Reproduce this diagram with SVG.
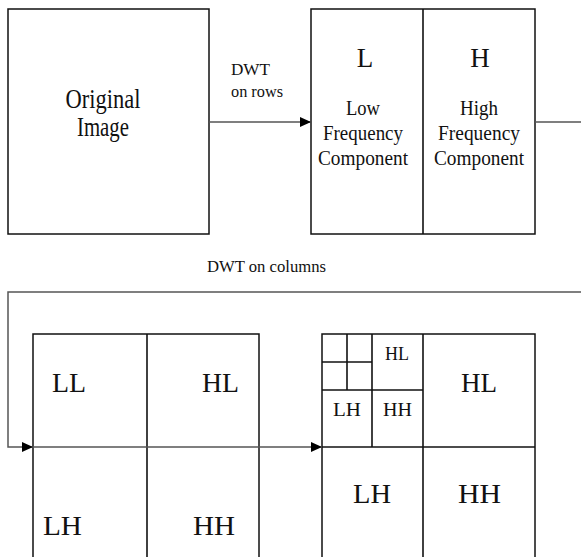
<svg xmlns="http://www.w3.org/2000/svg" width="581" height="557" viewBox="0 0 581 557">
<style>
.box{fill:#fff;stroke:#111;stroke-width:1.5}
.div{fill:none;stroke:#111;stroke-width:1.6}
.con{fill:none;stroke:#555;stroke-width:1.5}
text{font-family:"Liberation Serif","Times New Roman",serif;fill:#111}
.big{font-size:27px}
.mid{font-size:20px;text-anchor:middle}
.sm{font-size:18px}
.lbl{font-size:16px}
</style>
<defs>
<marker id="ah" markerUnits="userSpaceOnUse" markerWidth="12" markerHeight="10" refX="11" refY="5" orient="auto">
<path d="M0,0 L11,5 L0,10 z" fill="#000"/>
</marker>
</defs>
<rect width="581" height="557" fill="#fff"/>
<g id="original">
<rect class="box" x="8" y="9" width="201" height="225"/>
<text x="103" y="108" text-anchor="middle" font-size="27" textLength="75" lengthAdjust="spacingAndGlyphs">Original</text>
<text x="103" y="136" text-anchor="middle" font-size="27" textLength="52" lengthAdjust="spacingAndGlyphs">Image</text>
</g>
<g id="rows-result">
<rect class="box" x="311" y="9" width="224" height="225"/>
<line class="div" x1="423" y1="9" x2="423" y2="234"/>
<text class="big" x="365" y="67" text-anchor="middle">L</text>
<text class="big" x="480" y="67" text-anchor="middle">H</text>
<text class="mid" x="363" y="115" textLength="34" lengthAdjust="spacingAndGlyphs">Low</text>
<text class="mid" x="363" y="140" textLength="80" lengthAdjust="spacingAndGlyphs">Frequency</text>
<text class="mid" x="363" y="165" textLength="90" lengthAdjust="spacingAndGlyphs">Component</text>
<text class="mid" x="479" y="115" textLength="38" lengthAdjust="spacingAndGlyphs">High</text>
<text class="mid" x="479" y="140" textLength="82" lengthAdjust="spacingAndGlyphs">Frequency</text>
<text class="mid" x="479" y="165" textLength="90" lengthAdjust="spacingAndGlyphs">Component</text>
</g>
<g id="level1">
<rect class="box" x="33" y="334" width="226" height="240"/>
<line class="div" x1="147" y1="334" x2="147" y2="560"/>
<text class="big" x="52" y="392" textLength="34" lengthAdjust="spacingAndGlyphs">LL</text>
<text class="big" x="202" y="392" textLength="37" lengthAdjust="spacingAndGlyphs">HL</text>
<text class="big" x="43" y="535" textLength="39" lengthAdjust="spacingAndGlyphs">LH</text>
<text class="big" x="193" y="535" textLength="42" lengthAdjust="spacingAndGlyphs">HH</text>
</g>
<g id="level2">
<rect class="box" x="322" y="334" width="213" height="240"/>
<line class="div" x1="423" y1="334" x2="423" y2="560"/>
<line class="div" x1="322" y1="447" x2="535" y2="447"/>
<line class="div" x1="372" y1="334" x2="372" y2="447"/>
<line class="div" x1="322" y1="390" x2="423" y2="390"/>
<line class="div" x1="347" y1="334" x2="347" y2="390"/>
<line class="div" x1="322" y1="362" x2="372" y2="362"/>
<text class="sm" x="385" y="360" textLength="24" lengthAdjust="spacingAndGlyphs">HL</text>
<text class="sm" x="333" y="416" textLength="28" lengthAdjust="spacingAndGlyphs">LH</text>
<text class="sm" x="383" y="416" textLength="29" lengthAdjust="spacingAndGlyphs">HH</text>
<text class="big" x="461" y="392" textLength="36" lengthAdjust="spacingAndGlyphs">HL</text>
<text class="big" x="353" y="503" textLength="38" lengthAdjust="spacingAndGlyphs">LH</text>
<text class="big" x="458" y="503" textLength="43" lengthAdjust="spacingAndGlyphs">HH</text>
</g>
<g id="connectors">
<line class="con" x1="209" y1="122" x2="311" y2="122" marker-end="url(#ah)"/>
<line class="con" x1="535" y1="122" x2="581" y2="122"/>
<path class="con" d="M581,292 H8 V447 H33" marker-end="url(#ah)"/>
<line class="con" x1="33" y1="447" x2="259" y2="447"/>
<line class="con" x1="259" y1="447" x2="322" y2="447" marker-end="url(#ah)"/>
<text class="lbl" x="231" y="75" textLength="39" lengthAdjust="spacingAndGlyphs">DWT</text>
<text class="lbl" x="231" y="97" font-size="14" textLength="52" lengthAdjust="spacingAndGlyphs">on rows</text>
<text class="lbl" x="207" y="272" textLength="119" lengthAdjust="spacingAndGlyphs">DWT on columns</text>
</g>
</svg>
